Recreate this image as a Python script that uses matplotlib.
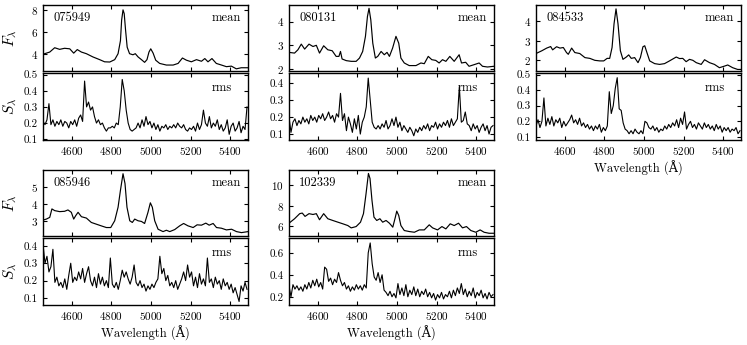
import matplotlib

matplotlib.use("Agg")

import matplotlib.pyplot as plt
import numpy as np

plt.rcParams.update({
    "font.family": ["cmr10", "DejaVu Serif"],
    "mathtext.fontset": "cm",
    "axes.formatter.use_mathtext": True,
    "axes.unicode_minus": False,
    "xtick.direction": "in",
    "ytick.direction": "in",
    "xtick.top": True,
    "ytick.right": True,
    "xtick.labelsize": 8,
    "ytick.labelsize": 8,
    "xtick.major.size": 3,
    "ytick.major.size": 3,
    "axes.linewidth": 1.0,
})

# ---- mean spectra (wavelength in A, flux) ----
mean_wave_075949 = [4455, 4489, 4514, 4539, 4564, 4590, 4610, 4628, 4649, 4674, 4707, 4741, 4766, 4792,
                    4817, 4834, 4846, 4852, 4859, 4865, 4872, 4880, 4892, 4909, 4921, 4935, 4952, 4968,
                    4980, 4990, 4999, 5011, 5024, 5044, 5078, 5112, 5137, 5159, 5179, 5204, 5230, 5255,
                    5272, 5288, 5308, 5330, 5356, 5381, 5406, 5431, 5456, 5490]
mean_flux_075949 = [3.95, 4.15, 4.55, 4.4, 4.5, 4.45, 4.05, 4.38, 4.15, 4.0, 3.7, 3.45, 3.25, 3.23,
                    3.45, 4.0, 5.2, 7.1, 8.05, 7.7, 6.15, 4.6, 4.0, 3.9, 4.0, 3.7, 3.45, 3.2,
                    3.45, 4.15, 4.45, 4.05, 3.4, 3.1, 2.95, 2.95, 3.1, 3.6, 3.4, 3.25, 3.45, 3.3,
                    3.55, 3.25, 3.55, 3.1, 2.95, 2.8, 2.85, 2.6, 2.7, 2.7]

mean_wave_080131 = [4455, 4483, 4500, 4517, 4534, 4556, 4576, 4593, 4609, 4630, 4651, 4673, 4693, 4707,
                    4715, 4723, 4744, 4769, 4794, 4811, 4827, 4841, 4851, 4859, 4868, 4878, 4891, 4903,
                    4920, 4936, 4950, 4962, 4978, 4995, 5009, 5020, 5037, 5062, 5096, 5121, 5138, 5158,
                    5176, 5196, 5213, 5230, 5247, 5267, 5289, 5314, 5326, 5347, 5364, 5390, 5415, 5432,
                    5457, 5490]
mean_flux_080131 = [2.69, 2.66, 2.8, 3.04, 2.83, 3.04, 2.94, 2.99, 2.66, 2.97, 2.8, 2.76, 2.52, 2.52,
                    2.73, 2.41, 2.34, 2.31, 2.31, 2.45, 2.73, 3.37, 4.21, 4.56, 4.07, 3.08, 2.45, 2.52,
                    2.73, 2.59, 2.69, 2.52, 2.87, 3.37, 3.08, 2.45, 2.24, 2.13, 2.13, 2.24, 2.21, 2.52,
                    2.38, 2.35, 2.24, 2.38, 2.31, 2.52, 2.31, 2.59, 2.24, 2.27, 2.1, 2.17, 2.24, 2.1,
                    2.07, 2.1]

mean_wave_084533 = [4455, 4484, 4509, 4529, 4539, 4559, 4576, 4593, 4609, 4618, 4635, 4651, 4676, 4702,
                    4727, 4752, 4777, 4797, 4814, 4827, 4839, 4849, 4859, 4869, 4881, 4894, 4911, 4923,
                    4936, 4953, 4970, 4982, 4995, 5004, 5015, 5029, 5054, 5079, 5104, 5129, 5163, 5180,
                    5196, 5213, 5230, 5247, 5264, 5289, 5306, 5331, 5356, 5381, 5406, 5423, 5448, 5473,
                    5490]
mean_flux_084533 = [2.35, 2.49, 2.63, 2.71, 2.54, 2.7, 2.63, 2.66, 2.4, 2.31, 2.63, 2.4, 2.35, 2.14,
                    2.1, 2.0, 1.97, 1.97, 2.1, 2.1, 2.66, 3.88, 4.65, 3.88, 2.49, 2.05, 2.17, 2.28,
                    2.1, 2.14, 1.88, 2.14, 2.7, 2.75, 2.4, 1.97, 1.83, 1.79, 1.83, 1.97, 2.17, 2.09,
                    2.1, 1.93, 2.05, 2.0, 1.88, 1.79, 2.03, 1.88, 1.79, 1.62, 1.7, 1.76, 1.62, 1.53,
                    1.53]

mean_wave_085946 = [4455, 4472, 4489, 4500, 4514, 4539, 4564, 4581, 4598, 4610, 4620, 4632, 4649, 4674,
                    4699, 4724, 4749, 4775, 4797, 4817, 4834, 4846, 4859, 4869, 4879, 4893, 4906, 4918,
                    4935, 4952, 4968, 4985, 4997, 5007, 5019, 5036, 5061, 5078, 5095, 5120, 5145, 5165,
                    5187, 5213, 5233, 5255, 5277, 5294, 5314, 5331, 5356, 5381, 5407, 5432, 5457, 5490]
mean_flux_085946 = [3.04, 3.1, 3.2, 3.7, 3.6, 3.54, 3.56, 3.64, 3.5, 3.1, 3.3, 3.5, 3.24, 3.16,
                    2.9, 2.8, 2.7, 2.6, 2.6, 3.0, 3.8, 4.8, 5.78, 5.2, 3.8, 3.0, 2.9, 3.1,
                    3.0, 2.96, 2.84, 3.5, 4.06, 3.8, 3.0, 2.5, 2.36, 2.44, 2.36, 2.48, 2.7, 2.84,
                    2.7, 2.6, 2.76, 2.74, 2.86, 2.74, 2.84, 2.6, 2.56, 2.46, 2.5, 2.36, 2.3, 2.36]

mean_wave_102339 = [4455, 4483, 4509, 4522, 4536, 4556, 4576, 4593, 4609, 4630, 4651, 4676, 4702, 4727,
                    4752, 4769, 4794, 4816, 4831, 4844, 4856, 4864, 4874, 4884, 4898, 4914, 4928, 4945,
                    4962, 4979, 4992, 4999, 5009, 5020, 5037, 5062, 5088, 5113, 5138, 5163, 5180, 5205,
                    5227, 5247, 5269, 5289, 5311, 5331, 5351, 5373, 5398, 5420, 5440, 5465, 5490]
mean_flux_102339 = [6.26, 6.7, 7.2, 7.26, 6.93, 7.2, 7.12, 7.2, 6.6, 7.2, 6.7, 6.53, 6.36, 6.2,
                    6.03, 5.8, 5.93, 6.36, 7.2, 9.17, 11.16, 10.66, 8.5, 6.86, 6.53, 6.7, 6.36, 6.53,
                    6.26, 5.87, 6.86, 7.45, 7.02, 6.03, 5.54, 5.44, 5.37, 5.6, 5.6, 6.1, 5.8, 5.6,
                    5.93, 5.7, 6.2, 6.03, 6.26, 5.8, 5.93, 5.54, 5.37, 5.6, 5.37, 5.27, 5.27]

# ---- rms spectra, sampled every 10 A from 4455 A ----
rms_wave = np.arange(4455, 5490, 10)

rms_075949 = [0.21, 0.19, 0.22, 0.32, 0.19, 0.22, 0.18, 0.21, 0.19, 0.22,
              0.18, 0.21, 0.20, 0.17, 0.21, 0.19, 0.22, 0.18, 0.23, 0.25,
              0.21, 0.46, 0.30, 0.33, 0.28, 0.30, 0.24, 0.20, 0.22, 0.19,
              0.20, 0.17, 0.15, 0.17, 0.17, 0.18, 0.17, 0.20, 0.19, 0.30,
              0.47, 0.40, 0.28, 0.20, 0.16, 0.15, 0.16, 0.17, 0.20, 0.17,
              0.22, 0.18, 0.24, 0.19, 0.21, 0.17, 0.20, 0.16, 0.19, 0.15,
              0.18, 0.17, 0.19, 0.16, 0.18, 0.17, 0.19, 0.17, 0.20, 0.18,
              0.17, 0.19, 0.16, 0.15, 0.17, 0.16, 0.18, 0.15, 0.20, 0.16,
              0.19, 0.28, 0.20, 0.18, 0.24, 0.17, 0.20, 0.18, 0.22, 0.16,
              0.19, 0.15, 0.17, 0.22, 0.13, 0.18, 0.20, 0.15, 0.17, 0.21,
              0.14, 0.18, 0.16, 0.30]

rms_080131 = [0.20, 0.11, 0.17, 0.19, 0.15, 0.18, 0.16, 0.20, 0.17, 0.19,
              0.16, 0.21, 0.18, 0.20, 0.17, 0.21, 0.19, 0.22, 0.18, 0.20,
              0.23, 0.19, 0.21, 0.17, 0.22, 0.20, 0.34, 0.18, 0.22, 0.12,
              0.20, 0.16, 0.11, 0.19, 0.13, 0.21, 0.10, 0.17, 0.20, 0.26,
              0.43, 0.30, 0.17, 0.14, 0.13, 0.15, 0.13, 0.16, 0.14, 0.18,
              0.13, 0.15, 0.19, 0.15, 0.20, 0.14, 0.17, 0.12, 0.15, 0.13,
              0.11, 0.14, 0.12, 0.09, 0.13, 0.11, 0.14, 0.12, 0.15, 0.13,
              0.16, 0.12, 0.15, 0.14, 0.17, 0.13, 0.16, 0.14, 0.17, 0.15,
              0.18, 0.14, 0.19, 0.15, 0.17, 0.19, 0.38, 0.17, 0.18, 0.23,
              0.16, 0.15, 0.12, 0.16, 0.13, 0.15, 0.11, 0.14, 0.16, 0.12,
              0.15, 0.10, 0.14, 0.15]

rms_084533 = [0.17, 0.21, 0.16, 0.20, 0.35, 0.17, 0.22, 0.18, 0.23, 0.17,
              0.21, 0.19, 0.22, 0.16, 0.20, 0.17, 0.19, 0.21, 0.24, 0.19,
              0.21, 0.18, 0.22, 0.17, 0.19, 0.16, 0.18, 0.15, 0.17, 0.14,
              0.17, 0.15, 0.18, 0.13, 0.16, 0.14, 0.17, 0.39, 0.25, 0.30,
              0.41, 0.48, 0.28, 0.27, 0.19, 0.15, 0.14, 0.12, 0.14, 0.12,
              0.15, 0.13, 0.12, 0.14, 0.12, 0.20, 0.19, 0.16, 0.15, 0.17,
              0.14, 0.16, 0.13, 0.15, 0.14, 0.17, 0.15, 0.18, 0.16, 0.19,
              0.17, 0.21, 0.16, 0.22, 0.18, 0.26, 0.15, 0.18, 0.20, 0.16,
              0.18, 0.15, 0.19, 0.17, 0.15, 0.19, 0.16, 0.18, 0.15, 0.17,
              0.14, 0.18, 0.15, 0.17, 0.13, 0.16, 0.14, 0.16, 0.13, 0.15,
              0.14, 0.16, 0.12, 0.14]

rms_085946 = [0.41, 0.30, 0.34, 0.25, 0.28, 0.38, 0.19, 0.22, 0.17, 0.19,
              0.16, 0.21, 0.15, 0.23, 0.30, 0.19, 0.22, 0.20, 0.25, 0.21,
              0.27, 0.19, 0.24, 0.28, 0.20, 0.17, 0.22, 0.16, 0.24, 0.18,
              0.22, 0.17, 0.20, 0.16, 0.33, 0.18, 0.16, 0.19, 0.15, 0.20,
              0.26, 0.22, 0.25, 0.21, 0.18, 0.22, 0.29, 0.19, 0.17, 0.20,
              0.16, 0.18, 0.14, 0.17, 0.15, 0.18, 0.16, 0.19, 0.21, 0.34,
              0.24, 0.27, 0.20, 0.23, 0.17, 0.19, 0.16, 0.20, 0.15, 0.18,
              0.21, 0.25, 0.20, 0.29, 0.22, 0.25, 0.17, 0.22, 0.16, 0.24,
              0.18, 0.21, 0.17, 0.33, 0.19, 0.21, 0.16, 0.22, 0.18, 0.20,
              0.15, 0.21, 0.17, 0.19, 0.15, 0.18, 0.13, 0.16, 0.12, 0.08,
              0.17, 0.14, 0.19, 0.15]

rms_102339 = [0.30, 0.20, 0.31, 0.27, 0.30, 0.26, 0.29, 0.25, 0.31, 0.27,
              0.33, 0.28, 0.35, 0.30, 0.36, 0.29, 0.33, 0.27, 0.47, 0.45,
              0.34, 0.37, 0.31, 0.36, 0.33, 0.42, 0.35, 0.30, 0.33, 0.27,
              0.30, 0.25, 0.29, 0.26, 0.31, 0.27, 0.30, 0.26, 0.31, 0.28,
              0.60, 0.69, 0.50, 0.38, 0.35, 0.42, 0.33, 0.40, 0.26, 0.24,
              0.21, 0.25, 0.20, 0.23, 0.19, 0.32, 0.22, 0.28, 0.21, 0.31,
              0.20, 0.26, 0.22, 0.29, 0.21, 0.27, 0.20, 0.25, 0.22, 0.27,
              0.20, 0.24, 0.19, 0.23, 0.17, 0.22, 0.19, 0.24, 0.18, 0.22,
              0.20, 0.25, 0.19, 0.26, 0.21, 0.28, 0.23, 0.32, 0.22, 0.27,
              0.20, 0.25, 0.21, 0.28, 0.19, 0.24, 0.21, 0.26, 0.19, 0.23,
              0.18, 0.24, 0.20, 0.22]

names = ["075949", "080131", "084533", "085946", "102339"]
mean_waves = [mean_wave_075949, mean_wave_080131, mean_wave_084533, mean_wave_085946, mean_wave_102339]
mean_fluxes = [mean_flux_075949, mean_flux_080131, mean_flux_084533, mean_flux_085946, mean_flux_102339]
rms_fluxes = [rms_075949, rms_080131, rms_084533, rms_085946, rms_102339]

mean_ylims = [(2.4, 8.5), (1.9, 4.7), (1.45, 4.85), (2.1, 6.0), (5.0, 11.5)]
mean_yticks = [[4, 6, 8], [2, 3, 4], [2, 3, 4], [3, 4, 5], [6, 8, 10]]
rms_ylims = [(0.095, 0.51), (0.065, 0.46), (0.08, 0.51), (0.06, 0.445), (0.125, 0.735)]
rms_yticks = [[0.1, 0.2, 0.3, 0.4, 0.5], [0.1, 0.2, 0.3, 0.4], [0.1, 0.2, 0.3, 0.4, 0.5],
              [0.1, 0.2, 0.3, 0.4], [0.2, 0.4, 0.6]]

W, H = 747, 345
col_left = [43, 289, 536, 43, 289]
row_top = [5, 5, 5, 170, 170]
show_xlabel = [False, False, True, True, True]
show_ylabel = [True, False, False, True, False]
xticks = [4600, 4800, 5000, 5200, 5400]


def px_box(left, top, w, h):
    return [left / W, 1 - (top + h) / H, w / W, h / H]


fig = plt.figure(figsize=(W / 100, H / 100), dpi=100)

for i, name in enumerate(names):
    left, top = col_left[i], row_top[i]
    ax_m = fig.add_axes(px_box(left, top, 205, 66))
    ax_r = fig.add_axes(px_box(left, top + 68, 205, 67))

    ax_m.plot(mean_waves[i], mean_fluxes[i], color="black", lw=0.85)
    ax_r.plot(rms_wave, rms_fluxes[i], color="black", lw=0.8)

    for ax in (ax_m, ax_r):
        ax.set_xlim(4455, 5490)
        ax.set_xticks(xticks)
    ax_m.set_xticklabels([])

    ax_m.set_ylim(*mean_ylims[i])
    ax_m.set_yticks(mean_yticks[i])
    ax_r.set_ylim(*rms_ylims[i])
    ax_r.set_yticks(rms_yticks[i])
    ax_r.set_yticklabels([f"{t:.1f}" for t in rms_yticks[i]])

    ax_m.text(0.05, 0.80, name, transform=ax_m.transAxes, fontsize=9, va="center", ha="left")
    ax_m.text(0.965, 0.80, "mean", transform=ax_m.transAxes, fontsize=9, va="center", ha="right")
    ax_r.text(0.92, 0.77, "rms", transform=ax_r.transAxes, fontsize=9, va="center", ha="right")

    if show_ylabel[i]:
        ax_m.set_ylabel(r"$F_\lambda$", fontsize=11)
        ax_r.set_ylabel(r"$S_\lambda$", fontsize=11)
        ax_m.yaxis.set_label_coords(-0.115, 0.5)
        ax_r.yaxis.set_label_coords(-0.115, 0.5)
    if show_xlabel[i]:
        ax_r.set_xlabel("Wavelength (Å)", fontsize=9, labelpad=3)

fig.savefig("out.png", dpi=100)
